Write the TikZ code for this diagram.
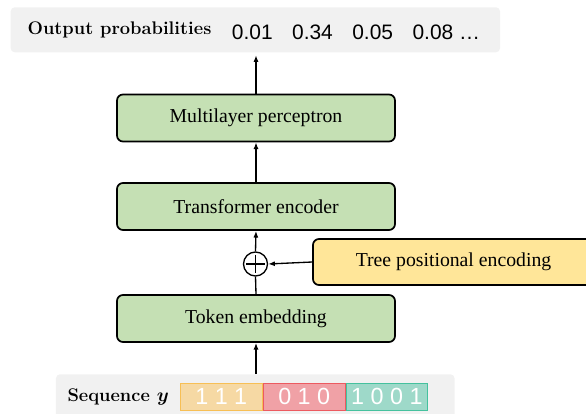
\documentclass[tikz,border=0pt]{standalone}
\usepackage{fontspec}
\usepackage{amsmath}
\usetikzlibrary{arrows.meta}
\newfontfamily\boxfont{Liberation Serif}
\newfontfamily\numfont{Liberation Sans}
\definecolor{stagegreen}{HTML}{C5E0B4}
\definecolor{posyellow}{HTML}{FFE699}
\definecolor{bargray}{HTML}{F1F1F1}
\definecolor{bitsorange}{HTML}{F6D9A4}
\definecolor{bitsorangeline}{HTML}{F7BF55}
\definecolor{bitsred}{HTML}{F0A1A6}
\definecolor{bitsredline}{HTML}{EC5A60}
\definecolor{bitsteal}{HTML}{9ED9C9}
\definecolor{bitstealline}{HTML}{45C19E}
\tikzset{
  stage/.style={draw, line width=1.3pt, rounded corners=4.5pt, fill=stagegreen,
    minimum width=208.5pt, minimum height=35.25pt, inner sep=0pt,
    font=\boxfont\fontsize{14.8}{17}\selectfont},
  posbox/.style={stage, fill=posyellow, minimum width=210.75pt, minimum height=34.5pt},
  bar/.style={fill=bargray, rounded corners=3pt, inner sep=0pt},
  bits/.style={draw, line width=0.8pt, minimum width=61.3pt, minimum height=20pt,
    inner sep=0pt, text=white, font=\numfont\fontsize{17.5}{19}\selectfont},
  arr/.style={line width=1pt, -{Latex[length=5pt,width=3.8pt]}},
  plain/.style={line width=1pt},
}
\begin{document}
\begin{tikzpicture}[x=0.75pt,y=0.75pt,yscale=-1,xscale=1]
\useasboundingbox (0,0) rectangle (586,414);

% Background bars
\node[bar, minimum width=367pt, minimum height=33.75pt] (outbar) at (255.35,29.8) {};
\node[bar, minimum width=298.9pt, minimum height=37.3pt] (seqbar) at (255.25,399.15) {};

% Text Node
\node[anchor=base west, inner sep=0pt, font=\bfseries\fontsize{13.7}{16}\selectfont] (outlabel) at (27.3,35) {Output probabilities};
% Text Node
\node[anchor=base west, inner sep=0pt, font=\numfont\fontsize{15.7}{18}\selectfont] (probs) at (231.7,40) {0.01\hspace{14.6pt}0.34\hspace{14.6pt}0.05\hspace{14.6pt}0.08 \dots};

% Stages
\node[stage] (mlp) at (256,118) {Multilayer perceptron};
\node[stage] (encoder) at (256,206.5) {Transformer encoder};
\node[stage] (embed) at (256,318.5) {Token embedding};
\node[posbox] (treepos) at (453.5,262) {Tree positional encoding};

% Sum
\node[draw, circle, line width=1pt, minimum size=18pt, inner sep=0pt,
  path picture={\draw[line width=1pt] ([yshift=-2pt]path picture bounding box.north) -- ([yshift=2pt]path picture bounding box.south)
    ([xshift=2pt]path picture bounding box.west) -- ([xshift=-2pt]path picture bounding box.east);}] (plus) at (255.5,264) {};

% Sequence
\node[anchor=base west, inner sep=0pt, font=\bfseries\boldmath\fontsize{13.7}{16}\selectfont] (seqlabel) at (67.3,401) {Sequence $y$};
\node[bits, fill=bitsorange, draw=bitsorangeline] (bitsa) at (221.3,396.7) {1 1 1};
\node[bits, fill=bitsred, draw=bitsredline] (bitsb) at (304.2,396.7) {0 1 0};
\node[bits, fill=bitsteal, draw=bitstealline] (bitsc) at (386.9,396.7) {1 0 0 1};

% Connectors
\draw[arr] (embed.south |- seqbar.north) -- (embed.south);
\draw[plain] (embed.north) -- (plus.south);
\draw[arr] (treepos.west) -- (plus.east);
\draw[arr] (plus.north) -- (encoder.south);
\draw[arr] (encoder.north) -- (mlp.south);
\draw[arr, shorten >=2pt] (mlp.north) -- (mlp.north |- outbar.south);

\end{tikzpicture}
\end{document}
